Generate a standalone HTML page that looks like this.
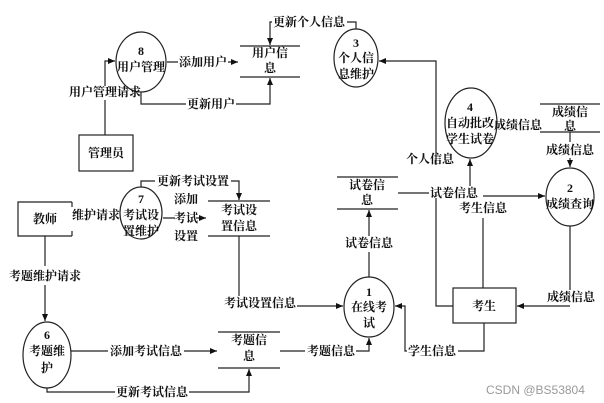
<!DOCTYPE html>
<html><head><meta charset="utf-8"><style>
html,body{margin:0;padding:0;background:#fff;}
svg{display:block;}
text{font-family:"Liberation Serif","Noto Serif CJK SC",serif;font-size:12px;font-weight:bold;fill:#111;}
</style></head><body>
<svg width="604" height="403" viewBox="0 0 604 403" xmlns="http://www.w3.org/2000/svg">
<defs><marker id="a" markerWidth="8" markerHeight="8" refX="7" refY="4" orient="auto" markerUnits="userSpaceOnUse"><path d="M0,1 L7,4 L0,7 Z" fill="#111"/></marker></defs>
<g fill="none" stroke="#222" stroke-width="1.2">
<ellipse cx="141" cy="62" rx="25" ry="30"/>
<ellipse cx="356" cy="58" rx="22" ry="29"/>
<ellipse cx="471" cy="123" rx="26" ry="35"/>
<ellipse cx="570" cy="197" rx="24" ry="29"/>
<ellipse cx="141" cy="213" rx="21" ry="26"/>
<ellipse cx="369" cy="307" rx="25" ry="30"/>
<ellipse cx="47" cy="355" rx="24" ry="33"/>
<rect x="79" y="135" width="54" height="36"/>
<path d="M72,202 H18 V236 H72 M72,202 V207 M72,231 V236"/>
<rect x="453" y="288" width="63" height="35"/>
<path d="M240,46 H300 M240,77 H300 M540,104 H600 M540,132 H600 M337,177 H398 M337,209 H398 M208,201 H270 M208,236 H270 M218,332 H280 M218,368 H280"/>
<path d="M105,135 V100 M105,86 V61 H115" marker-end="url(#a)"/>
<path d="M167,62 H178 M228,62 H238" marker-end="url(#a)"/>
<path d="M141,92 V104 H186 M236,104 H270 V78" marker-end="url(#a)"/>
<path d="M356,29 V22 H347 M272,22 H270 V45" marker-end="url(#a)"/>
<path d="M453,306 H436 V198 M436,165 V61 H379" marker-end="url(#a)"/>
<path d="M398,193 H429"/>
<path d="M470,186 V159" marker-end="url(#a)"/>
<path d="M483,288 V218 M483,196 H545" marker-end="url(#a)"/>
<path d="M570,132 V142 M570,158 V167" marker-end="url(#a)"/>
<path d="M570,226 V290 M570,306 H517" marker-end="url(#a)"/>
<path d="M484,323 V351 H458 M407,351 H405 V306 H395" marker-end="url(#a)"/>
<path d="M369,277 V252 M369,236 V210" marker-end="url(#a)"/>
<path d="M239,236 V296 M297,306 H343" marker-end="url(#a)"/>
<path d="M280,351 H305 M356,351 H369 V338" marker-end="url(#a)"/>
<path d="M71,351 H108 M184,351 H217" marker-end="url(#a)"/>
<path d="M47,388 V392 H115 M189,392 H249 V369" marker-end="url(#a)"/>
<path d="M45,236 V266 M45,285 V321" marker-end="url(#a)"/>
<path d="M141,187 V181 H155 M231,181 H239 V200" marker-end="url(#a)"/>
<path d="M163,218 H175 M196,218 H206" marker-end="url(#a)"/>
</g>
<g text-anchor="middle">
<text x="141" y="55">8</text><text x="141" y="71">用户管理</text>
<text x="356" y="47">3</text><text x="356" y="62">个人信</text><text x="356" y="78">息维护</text>
<text x="470" y="111">4</text><text x="470" y="127">自动批改</text><text x="470" y="143">学生试卷</text>
<text x="570" y="192">2</text><text x="570" y="208">成绩查询</text>
<text x="141" y="203">7</text><text x="141" y="219">考试设</text><text x="141" y="235">置维护</text>
<text x="369" y="296">1</text><text x="369" y="311">在线考</text><text x="369" y="327">试</text>
<text x="47" y="339">6</text><text x="47" y="355">考题维</text><text x="47" y="372">护</text>
<text x="106" y="157">管理员</text><text x="45" y="223">教师</text><text x="484" y="310">考生</text>
<text x="270" y="57">用户信</text><text x="270" y="72">息</text>
<text x="570" y="116">成绩信</text><text x="570" y="130">息</text>
<text x="367" y="189">试卷信</text><text x="367" y="204">息</text>
<text x="239" y="214">考试设</text><text x="239" y="230">置信息</text>
<text x="249" y="344">考题信</text><text x="249" y="360">息</text>
<text x="105" y="96">用户管理请求</text>
<text x="203" y="66">添加用户</text>
<text x="211" y="108">更新用户</text>
<text x="309" y="26">更新个人信息</text>
<text x="430" y="163">个人信息</text>
<text x="454" y="197">试卷信息</text>
<text x="483" y="212">考生信息</text>
<text x="518" y="129">成绩信息</text>
<text x="570" y="154">成绩信息</text>
<text x="571" y="301">成绩信息</text>
<text x="432" y="355">学生信息</text>
<text x="369" y="247">试卷信息</text>
<text x="260" y="307">考试设置信息</text>
<text x="331" y="355">考题信息</text>
<text x="146" y="355">添加考试信息</text>
<text x="152" y="396">更新考试信息</text>
<text x="45" y="280">考题维护请求</text>
<text x="96" y="219">维护请求</text>
<text x="193" y="185">更新考试设置</text>
<text x="186" y="203">添加</text><text x="186" y="222">考试</text><text x="186" y="240">设置</text>
</g>
<text x="486" y="394" style="font-family:'Liberation Sans',sans-serif;font-weight:normal;font-size:12px;fill:#999">CSDN @BS53804</text>
</svg>
</body></html>
